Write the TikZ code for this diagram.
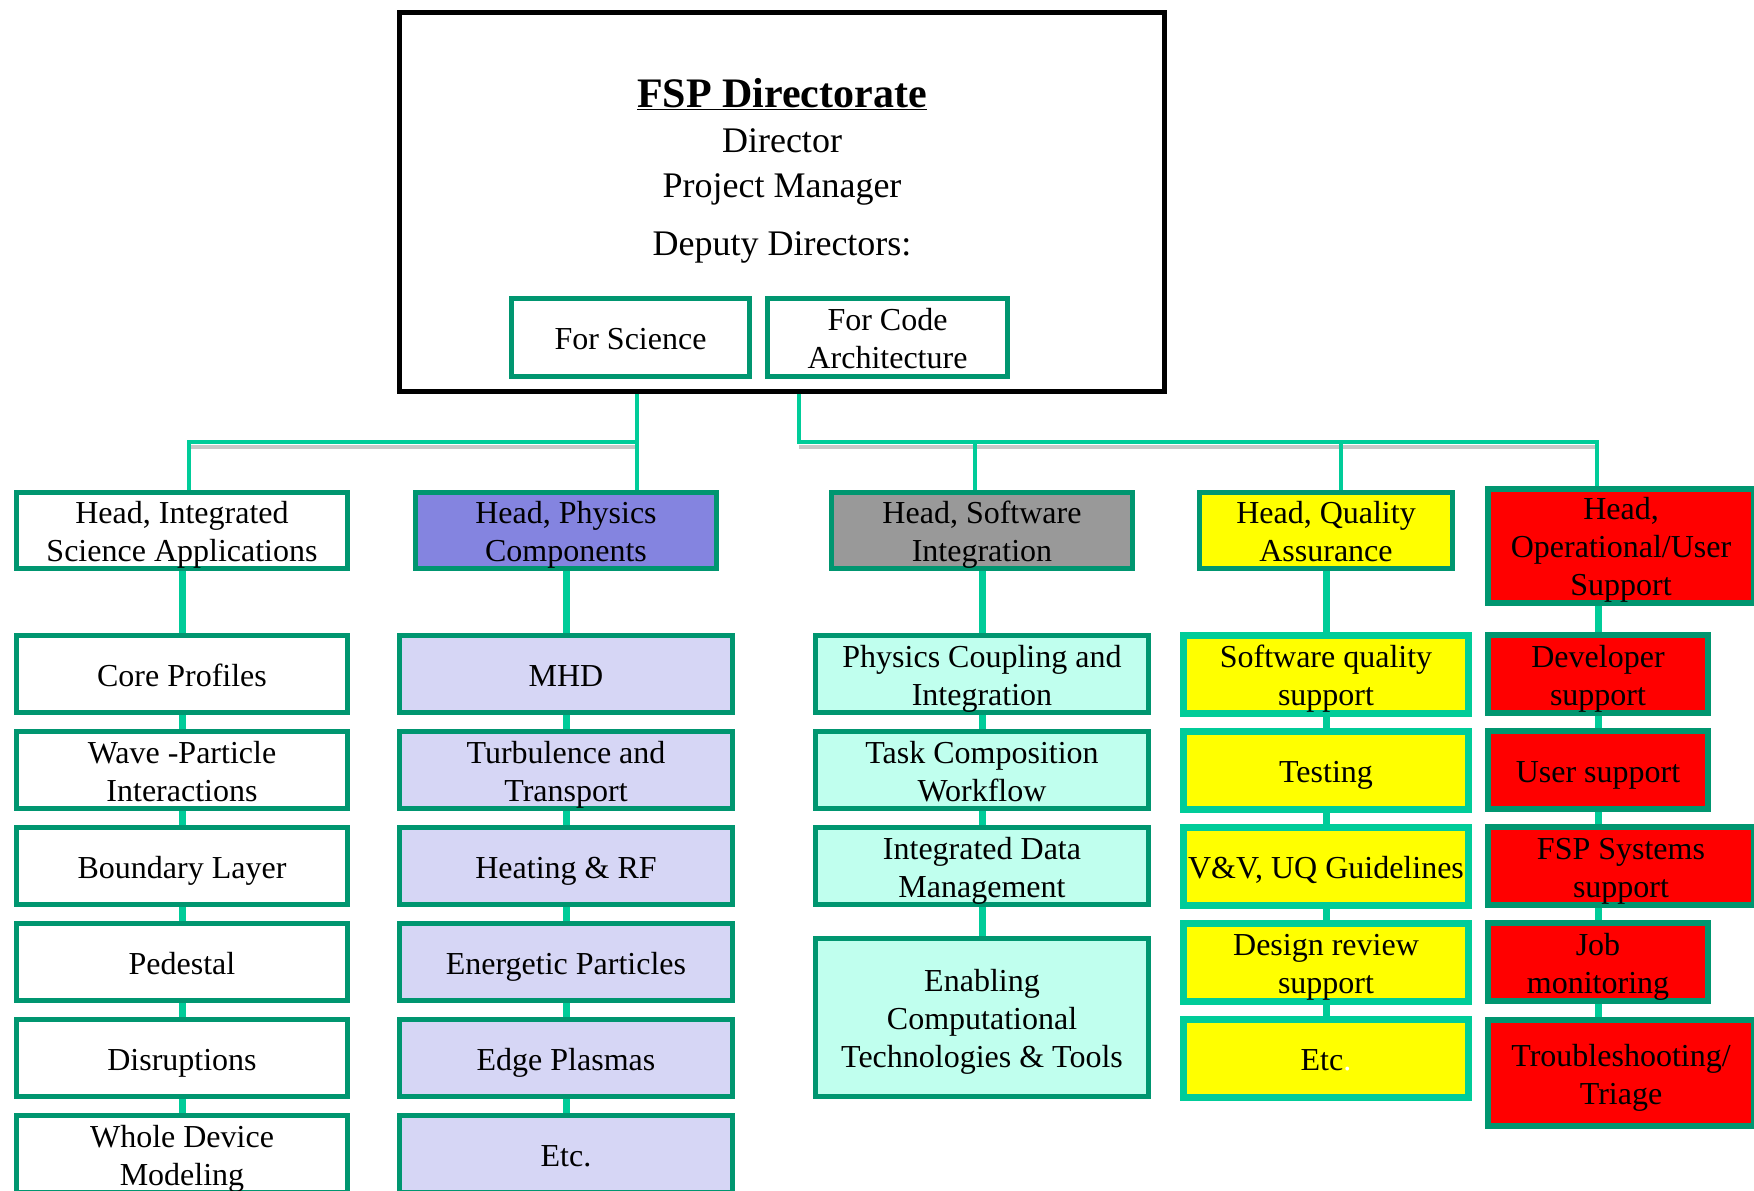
\documentclass[tikz,border=0pt]{standalone}
\usepackage{fontspec}
\setmainfont{Liberation Serif}
\definecolor{bdark}{RGB}{0,150,112}
\definecolor{cline}{RGB}{0,204,153}
\definecolor{physH}{RGB}{132,132,224}
\definecolor{physC}{RGB}{214,214,245}
\definecolor{swH}{RGB}{153,153,153}
\definecolor{swC}{RGB}{192,255,238}
\definecolor{qaY}{RGB}{255,255,0}
\definecolor{opR}{RGB}{255,0,0}
\definecolor{shade}{RGB}{200,200,200}
\pgfdeclarelayer{bg}
\pgfsetlayers{bg,main}
\begin{document}
\begin{tikzpicture}[x=1pt,y=-1pt,
  box/.style={draw=bdark, line width=5pt, fill=white, align=center, inner sep=0pt,
    font=\fontsize{32}{38}\selectfont, text=black,
    execute at begin node={\rule[-7pt]{0pt}{38pt}}},
  l2/.style={execute at begin node={\rule{0pt}{69pt}}},
  l3/.style={execute at begin node={\rule{0pt}{107pt}}},
  sz/.style 2 args={minimum width=#1, minimum height=#2},
  physhead/.style={box, fill=physH},
  physbox/.style={box, fill=physC},
  swhead/.style={box, fill=swH},
  swbox/.style={box, fill=swC},
  qahead/.style={box, fill=qaY},
  qabox/.style={box, fill=qaY, draw=cline, line width=7pt},
  opbox/.style={box, fill=opR, line width=6pt},
  topconn/.style={draw=cline, line width=4pt},
  shadowline/.style={draw=shade, line width=4pt},
  childconn/.style={draw=cline, line width=7pt},
  ttl/.style={anchor=base, inner sep=0pt, font=\fontsize{36}{42}\selectfont}
]
\useasboundingbox (0,0) rectangle (1754,1191);
\clip (0,0) rectangle (1754,1191);

% Directorate
\node[draw=black, line width=5pt, fill=white, sz={765}{379}] (dir) at (782,202) {};
\node[anchor=base, inner sep=0pt, font=\fontsize{42}{50}\selectfont\bfseries] (title) at (782,107) {\underline{FSP Directorate}};
\node[ttl] (director) at (782,152) {Director};
\node[ttl] (pm) at (782,197) {Project Manager};
\node[ttl] (deputy) at (782,255) {Deputy Directors:};
\node[box, sz={238}{78}] (sci) at (630.5,337.5) {For Science};
\node[box, l2, sz={240}{78}] (code) at (887.5,337.5) {For Code\\Architecture};

% Column 1
\node[box, l2, sz={331}{76}] (hisa) at (182,530.5) {Head, Integrated\\Science Applications};
\node[box, sz={331}{77}] (core) at (182,674) {Core Profiles};
\node[box, l2, sz={331}{77}] (wave) at (182,770) {Wave -Particle\\Interactions};
\node[box, sz={331}{77}] (bl) at (182,866) {Boundary Layer};
\node[box, sz={331}{77}] (ped) at (182,962) {Pedestal};
\node[box, sz={331}{77}] (dis) at (182,1058) {Disruptions};
\node[box, l2, sz={331}{77}] (wdm) at (182,1154) {Whole Device\\Modeling};

% Column 2
\node[physhead, l2, sz={301}{76}] (phead) at (566,530.5) {Head, Physics\\Components};
\node[physbox, sz={333}{77}] (mhd) at (566,674) {MHD};
\node[physbox, l2, sz={333}{77}] (turb) at (566,770) {Turbulence and\\Transport};
\node[physbox, sz={333}{77}] (heat) at (566,866) {Heating \& RF};
\node[physbox, sz={333}{77}] (ener) at (566,962) {Energetic Particles};
\node[physbox, sz={333}{77}] (edge) at (566,1058) {Edge Plasmas};
\node[physbox, sz={333}{77}] (petc) at (566,1154) {Etc.};

% Column 3
\node[swhead, l2, sz={301}{76}] (swh) at (982,530.5) {Head, Software\\Integration};
\node[swbox, l2, sz={333}{77}] (pci) at (982,674) {Physics Coupling and\\Integration};
\node[swbox, l2, sz={333}{77}] (tcw) at (982,770) {Task Composition\\Workflow};
\node[swbox, l2, sz={333}{77}] (idm) at (982,866) {Integrated Data\\Management};
\node[swbox, l3, sz={333}{158}] (ect) at (982,1017.5) {Enabling\\Computational\\Technologies \& Tools};

% Column 4
\node[qahead, l2, sz={253}{76}] (qah) at (1326,530.5) {Head, Quality\\Assurance};
\node[qabox, l2, sz={285}{78}] (sqs) at (1326,674) {Software quality\\support};
\node[qabox, sz={285}{78}] (test) at (1326,770) {Testing};
\node[qabox, sz={285}{78}] (vv) at (1326,866) {V\&V, UQ Guidelines};
\node[qabox, l2, sz={285}{78}] (drs) at (1326,962) {Design review\\support};
\node[qabox, sz={285}{78}] (qetc) at (1326,1058) {Etc\textcolor{white}{.}};

% Column 5
\node[opbox, l3, sz={266}{107}] (oph) at (1621,545.5) {Head,\\Operational/User\\Support};
\node[opbox, l2, sz={220}{78}] (dev) at (1598,674) {Developer\\support};
\node[opbox, sz={220}{78}] (usr) at (1598,770) {User support};
\node[opbox, l2, sz={266}{78}] (fsys) at (1621,866) {FSP Systems\\support};
\node[opbox, l2, sz={220}{78}] (job) at (1598,962) {Job\\monitoring};
\node[opbox, l2, sz={266}{106}] (trb) at (1621,1073) {Troubleshooting/\\Triage};

\begin{pgfonlayer}{bg}
  \coordinate (dsci) at (637,394);
  \coordinate (dcode) at (799,394);
  \coordinate (xl) at (189,442);
  \coordinate (xm) at (637,442);
  \coordinate (xs) at (975,442);
  \coordinate (xq) at (1341,442);
  \coordinate (xr) at (1597,442);
  % shadows
  \draw[shadowline] ([yshift=-5pt]xl) -- ([yshift=-5pt]xm);
  \draw[shadowline] ([yshift=-5pt]dcode |- xr) -- ([yshift=-5pt]xr);
  % top connectors
  \draw[topconn] (dsci) -- (phead.north -| dsci);
  \draw[topconn] (xm) -- (xl) -- (hisa.north -| xl);
  \draw[topconn] (dcode) |- (xr) -- (oph.north -| xr);
  \draw[topconn] (xs) -- (swh.north -| xs);
  \draw[topconn] (xq) -- (qah.north -| xq);
  % column connectors
  \draw[childconn] (hisa.south) -- (core.north) (core.south) -- (wave.north)
    (wave.south) -- (bl.north) (bl.south) -- (ped.north) (ped.south) -- (dis.north)
    (dis.south) -- (wdm.north);
  \draw[childconn] (phead.south) -- (mhd.north) (mhd.south) -- (turb.north)
    (turb.south) -- (heat.north) (heat.south) -- (ener.north) (ener.south) -- (edge.north)
    (edge.south) -- (petc.north);
  \draw[childconn] (swh.south) -- (pci.north) (pci.south) -- (tcw.north)
    (tcw.south) -- (idm.north) (idm.south) -- (ect.north);
  \draw[childconn] (qah.south) -- (sqs.north) (sqs.south) -- (test.north)
    (test.south) -- (vv.north) (vv.south) -- (drs.north) (drs.south) -- (qetc.north);
  \draw[childconn] (oph.south -| dev) -- (dev.north) (dev.south) -- (usr.north)
    (usr.south) -- (fsys.north -| usr) (fsys.south -| job) -- (job.north)
    (job.south) -- (trb.north -| job);
\end{pgfonlayer}
\end{tikzpicture}
\end{document}
